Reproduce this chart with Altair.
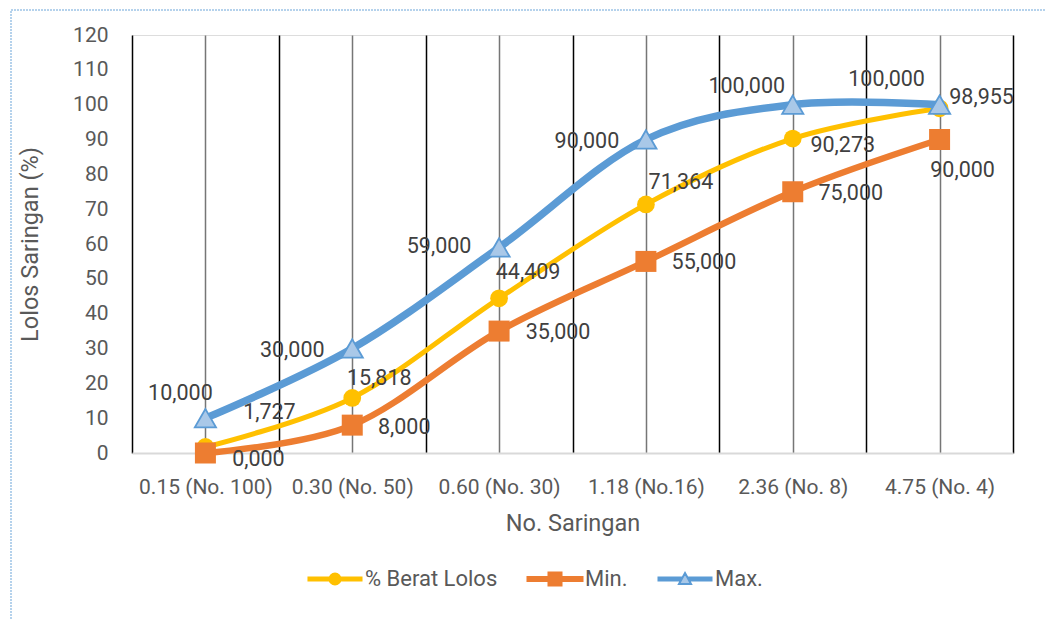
import json
import altair as alt
import pandas as pd

# ---- data ----
categories = ["0.15 (No. 100)", "0.30 (No. 50)", "0.60 (No. 30)",
              "1.18 (No.16)", "2.36 (No. 8)", "4.75 (No. 4)"]
berat_lolos = [1.727, 15.818, 44.409, 71.364, 90.273, 98.955]
batas_min = [0.0, 8.0, 35.0, 55.0, 75.0, 90.0]
batas_max = [10.0, 30.0, 59.0, 90.0, 100.0, 100.0]
series_names = ["% Berat Lolos", "Min.", "Max."]
y_ticks = list(range(0, 121, 10))

# ---- layout ----
W, H = 881, 418
PAD_L, PAD_T = 132, 35
PX_PER_CAT = W / len(categories)
PX_PER_PCT = H / 120

FONT = "Roboto"
AXIS_GREY = "#595959"
LABEL_GREY = "#404040"
COLORS = {"% Berat Lolos": "#FFC000", "Min.": "#ED7D31", "Max.": "#5B9BD5"}
TRI_FILL = "#A9C8E8"

# data-label nudges from each point, in pixels (dx, dy)
label_nudge = {
    "% Berat Lolos": [(64, -34), (27, -19), (29, -25), (35, -21), (50, 7), (42, -10)],
    "Min.": [(53, 7), (52, 3), (59, 2), (58, 2), (58, 2), (23, 31)],
    "Max.": [(-25, -24), (-60, 2), (-60, 0), (-59, 2), (-46, -18), (-53, -25)],
}

rows = []
for name, vals in zip(series_names, [berat_lolos, batas_min, batas_max]):
    for i, (cat, v) in enumerate(zip(categories, vals)):
        dx, dy = label_nudge[name][i]
        rows.append({
            "seri": name, "idx": i, "saringan": cat, "nilai": v,
            "lx": i + dx / PX_PER_CAT, "ly": v - dy / PX_PER_PCT,
        })
df = pd.DataFrame(rows)

# ---- scales / axes ----
n = len(categories)
x_scale = alt.Scale(domain=[-0.5, n - 0.5], nice=False, zero=False)
y_scale = alt.Scale(domain=[0, 120], nice=False)
x_grid_values = [k / 2 - 0.5 for k in range(2 * n + 1)]

x_axis = alt.Axis(
    values=x_grid_values,
    labelExpr=f"datum.value % 1 == 0 ? {json.dumps(categories)}[datum.value] : ''",
    labelFont=FONT, labelFontSize=21, labelColor=AXIS_GREY,
    labelPadding=34, labelBaseline="middle", labelOverlap=False, labelFlush=False,
    ticks=False, domainColor="#D9D9D9", domainWidth=2,
    grid=True, gridOpacity=1, gridWidth=1.5,
    gridColor={"condition": {"test": "datum.value % 1 == 0", "value": "#767676"},
               "value": "#000000"},
    title="No. Saringan", titleFont=FONT, titleFontSize=23.5, titleFontWeight="normal",
    titleColor=AXIS_GREY, titleBaseline="middle", titleY=70,
)
y_axis = alt.Axis(
    values=y_ticks, labelFont=FONT, labelFontSize=21, labelColor=AXIS_GREY,
    labelPadding=24, ticks=False, domain=False, grid=False,
    title="Lolos Saringan (%)", titleFont=FONT, titleFontSize=23.5,
    titleFontWeight="normal", titleColor=AXIS_GREY, titleBaseline="middle",
    titleAlign="center", titleX=30 - PAD_L, titleY=H / 2, titleAngle=270,
)

base = alt.Chart(df)
X = alt.X("idx:Q", scale=x_scale, axis=x_axis)
Y = alt.Y("nilai:Q", scale=y_scale, axis=y_axis)

line_width = {"% Berat Lolos": 5, "Min.": 6.5, "Max.": 7.5}

layers = []
for name in series_names:
    sub = base.transform_filter(alt.datum.seri == name)
    line = sub.mark_line(interpolate="cardinal", color=COLORS[name],
                         strokeWidth=line_width[name], strokeCap="round")
    layers.append(line.encode(x=X, y=Y))
    if name == "% Berat Lolos":
        pt = sub.mark_circle(size=314, color=COLORS[name], opacity=1)
    elif name == "Min.":
        pt = sub.mark_square(size=441, color=COLORS[name], opacity=1)
    else:
        pt = sub.mark_point(shape="triangle-up", size=450, filled=True,
                            fill=TRI_FILL, stroke=COLORS[name], strokeWidth=1.8,
                            opacity=1)
    layers.append(pt.encode(x=X, y=Y))

labels = base.transform_calculate(
    teks="replace(format(datum.nilai, '.3f'), '.', ',')"
).mark_text(font=FONT, fontSize=21.5, color=LABEL_GREY, align="center",
            baseline="middle").encode(
    x=alt.X("lx:Q", scale=x_scale, axis=x_axis),
    y=alt.Y("ly:Q", scale=y_scale, axis=y_axis),
    text="teks:N",
)
layers.append(labels)

# legend entries: line segment with the series marker (unit = 7 px)
tri_edge = lambda y: round(0.86 * (y + 0.86) / 1.57, 3)
tri_rows = [-0.21, -0.07, 0.07, 0.21]
max_path = "".join(f"M-3.93,{y}H-{tri_edge(y)}M{tri_edge(y)},{y}H3.93" for y in tri_rows)
max_path += "M0,-0.86L0.86,0.71L-0.86,0.71Z"
legend_shapes = [
    "M-3.79,-0.21H3.79V0.21H-3.79Z"
    "M0.79,0A0.79,0.79 0 1,1 -0.79,0A0.79,0.79 0 1,1 0.79,0Z",
    "M-3.93,-0.29H3.93V0.29H-3.93Z"
    "M-0.93,-0.93H0.93V0.93H-0.93Z",
    max_path,
]
legend_fill = [COLORS["% Berat Lolos"], COLORS["Min."], TRI_FILL]
legend_stroke = [COLORS["% Berat Lolos"], COLORS["Min."], COLORS["Max."]]

legend_def = alt.Legend(
    orient="none", legendX=192, legendY=533, direction="horizontal", title=None,
    symbolSize=196, symbolStrokeWidth=2, symbolOpacity=1,
    labelFont=FONT, labelFontSize=22, labelColor=AXIS_GREY, labelLimit=0,
    labelOffset=19, columnPadding=25, padding=0,
)
legend_layer = alt.Chart(pd.DataFrame({"seri": series_names})).mark_point(
    filled=True, opacity=0, strokeWidth=2
).encode(
    fill=alt.Fill("seri:N", scale=alt.Scale(domain=series_names, range=legend_fill),
                  legend=legend_def),
    stroke=alt.Stroke("seri:N", scale=alt.Scale(domain=series_names, range=legend_stroke),
                      legend=legend_def),
    shape=alt.Shape("seri:N", scale=alt.Scale(domain=series_names, range=legend_shapes),
                    legend=legend_def),
)
layers.append(legend_layer)

# dotted chart-area border
border = alt.Chart(pd.DataFrame({"b": [0]})).mark_rect(
    fill="transparent", stroke="#9DC3E6", strokeWidth=1.5, strokeDash=[2, 1]
).encode(
    x=alt.value(11 - PAD_L), x2=alt.value(1045 - PAD_L + 20),
    y=alt.value(10 - PAD_T), y2=alt.value(619 - PAD_T + 20),
)

chart = alt.layer(*layers, border).properties(
    width=W, height=H,
    padding={"left": PAD_L, "top": PAD_T, "right": 1045 - PAD_L - W, "bottom": 619 - PAD_T - H},
    autosize=alt.AutoSizeParams(type="none"),
).configure_view(strokeWidth=0).configure(background="white")

chart.save("out.html", embed_options={"renderer": "svg", "actions": False})
